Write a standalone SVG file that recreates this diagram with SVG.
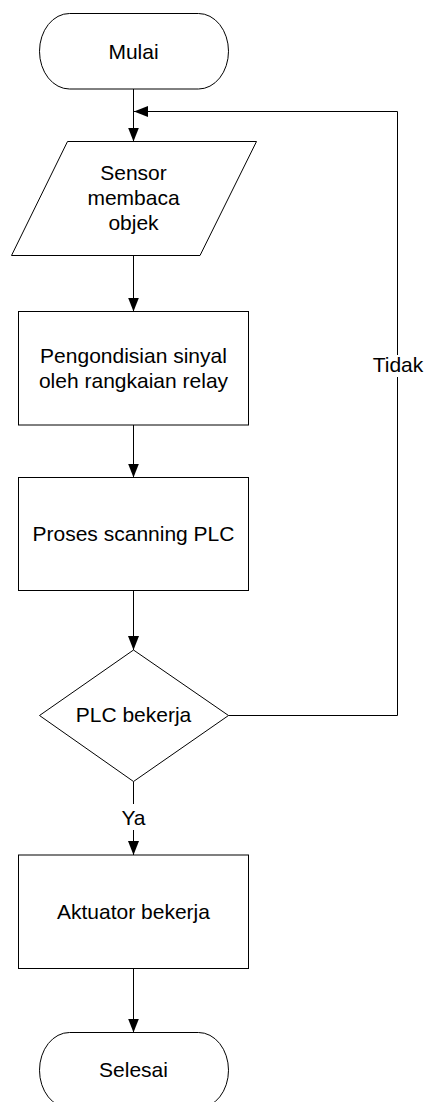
<svg xmlns="http://www.w3.org/2000/svg" width="427" height="1102" viewBox="0 0 427 1102">
<style>
.s{fill:#fff;stroke:#000;stroke-width:1}
.c{fill:none;stroke:#000;stroke-width:1}
.t{font-family:"Liberation Sans",Arial,sans-serif;font-size:21px;fill:#000;text-anchor:middle}
</style>
<defs>
<marker id="ah" viewBox="0 0 14 11" refX="14" refY="5.5" markerWidth="14" markerHeight="11" markerUnits="userSpaceOnUse" orient="auto">
<path d="M0,0 L14,5.5 L0,11 Z" fill="#000"/>
</marker>
</defs>
<rect width="427" height="1102" fill="#fff"/>
<g id="connectors">
<line class="c" x1="133.5" y1="89" x2="133.5" y2="141.5" marker-end="url(#ah)"/>
<polyline class="c" points="228.5,715.5 397.5,715.5 397.5,377"/>
<polyline class="c" points="397.5,355 397.5,111.5 134,111.5" marker-end="url(#ah)"/>
<line class="c" x1="133.5" y1="255.5" x2="133.5" y2="311.5" marker-end="url(#ah)"/>
<line class="c" x1="133.5" y1="425" x2="133.5" y2="477.5" marker-end="url(#ah)"/>
<line class="c" x1="133.5" y1="590.5" x2="133.5" y2="650" marker-end="url(#ah)"/>
<line class="c" x1="133.5" y1="781.5" x2="133.5" y2="804"/>
<line class="c" x1="133.5" y1="830" x2="133.5" y2="855" marker-end="url(#ah)"/>
<line class="c" x1="133.5" y1="968.5" x2="133.5" y2="1032.5" marker-end="url(#ah)"/>
<text class="t" x="398" y="372">Tidak</text>
<text class="t" x="133.5" y="825">Ya</text>
</g>
<g id="mulai">
<rect class="s" x="39.5" y="13.5" width="189" height="75.5" rx="30" ry="37.75"/>
<text class="t" x="133.5" y="58.5">Mulai</text>
</g>
<g id="sensor">
<polygon class="s" points="67.5,141.5 256.5,141.5 200,255.5 11.5,255.5"/>
<text class="t" x="133.5" y="180">Sensor</text>
<text class="t" x="133.5" y="205">membaca</text>
<text class="t" x="133.5" y="230">objek</text>
</g>
<g id="pengondisian">
<rect class="s" x="18.5" y="311.5" width="230" height="113.5"/>
<text class="t" x="133.5" y="362.5">Pengondisian sinyal</text>
<text class="t" x="133.5" y="388">oleh rangkaian relay</text>
</g>
<g id="proses">
<rect class="s" x="18.5" y="477.5" width="230" height="113"/>
<text class="t" x="133.5" y="541">Proses scanning PLC</text>
</g>
<g id="plc">
<polygon class="s" points="133.5,650 228.5,715.5 133.5,781.5 39.5,715.5"/>
<text class="t" x="133.5" y="722">PLC bekerja</text>
</g>
<g id="aktuator">
<rect class="s" x="18.5" y="855" width="230" height="113.5"/>
<text class="t" x="133.5" y="918.5">Aktuator bekerja</text>
</g>
<g id="selesai">
<rect class="s" x="39.5" y="1032.5" width="189" height="75.5" rx="30" ry="37.75"/>
<text class="t" x="133.5" y="1077">Selesai</text>
</g>
</svg>
